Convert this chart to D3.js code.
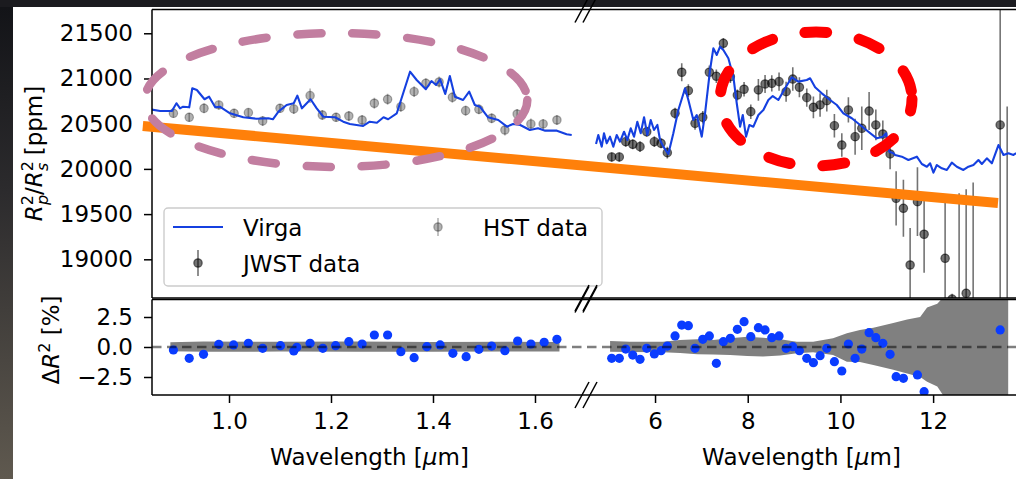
<!DOCTYPE html>
<html><head><meta charset="utf-8">
<script src="https://cdn.jsdelivr.net/npm/d3@7"></script>
<style>
body{margin:0;background:#fff}
svg{display:block}
text{font-family:"DejaVu Sans",sans-serif;fill:#000}
</style>
</head><body>
<svg id="c" width="1016" height="479"></svg>
<script>
// ---------------- DATA ----------------
const hstLam = [0.891,0.922,0.951,0.980,1.010,1.038,1.066,1.100,1.127,1.159,1.183,1.210,1.235,1.261,1.285,1.311,1.337,1.363,1.386,1.412,1.438,1.464,1.490,1.515,1.541,1.565,1.592,1.616,1.643];
const hstVal = [20615,20571,20670,20707,20615,20622,20530,20670,20663,20810,20596,20571,20585,20541,20726,20770,20688,20854,20947,20961,20792,20644,20659,20560,20430,20607,20497,20497,20541];
const hstErr = [50,50,55,50,50,50,55,50,55,80,55,50,55,55,60,60,55,60,55,60,60,55,55,55,60,55,60,55,55];

const jwstLam = [5.065,5.229,5.368,5.519,5.676,5.821,5.985,6.130,6.265,6.432,6.576,6.719,6.863,7.030,7.172,7.323,7.474,7.625,7.776,7.921,8.066,8.230,8.374,8.519,8.676,8.828,8.972,9.115,9.274,9.417,9.561,9.706,9.870,10.030,10.172,10.317,10.461,10.619,10.764,10.915,11.072,11.202,11.359,11.504,11.662,11.806,12.259,12.41,12.561,12.713,12.864,13.447,13.598];
const jwstVal = [20132,20132,20301,20272,20246,20411,20301,20283,20179,20615,21069,20865,20504,20571,21069,21024,21389,21020,20817,20881,20633,20873,20939,20947,20965,20854,20994,20903,20788,20681,20707,20754,20478,20264,20652,20356,20449,20640,20486,20386,20165,19675,19564,18937,19637,19277,19011,18560,18300,18624,18200,20486,17900];
const jwstErr = [50,50,55,55,60,55,60,55,65,60,100,70,70,70,75,75,60,70,60,80,80,120,100,90,100,110,130,110,100,120,130,120,130,130,140,200,240,210,170,150,170,300,315,410,380,425,620,60,1430,1150,1650,2200,2790];

const virgaLamL = [0.845,0.865,0.888,0.897,0.904,0.910,0.922,0.928,0.937,0.952,0.961,0.973,0.982,1.002,1.028,1.054,1.077,1.086,1.097,1.113,1.127,1.134,1.143,1.160,1.172,1.185,1.208,1.224,1.237,1.263,1.276,1.290,1.303,1.312,1.329,1.355,1.368,1.386,1.397,1.406,1.414,1.424,1.433,1.443,1.459,1.471,1.482,1.492,1.508,1.528,1.545,1.557,1.571,1.590,1.606,1.620,1.643,1.662,1.672];
const virgaValL = [20659,20640,20640,20726,20670,20688,20681,20892,20873,20770,20799,20681,20688,20615,20571,20555,20560,20549,20633,20707,20726,20810,20670,20770,20670,20577,20571,20522,20497,20475,20522,20511,20571,20549,20615,21075,20983,20881,20972,20928,20991,20829,21028,20799,20762,20854,20707,20688,20571,20541,20467,20497,20486,20430,20449,20423,20423,20383,20375];

const virgaLamR = [4.727,4.776,4.850,4.899,4.957,5.029,5.100,5.173,5.245,5.331,5.402,5.476,5.547,5.618,5.691,5.763,5.834,5.907,5.978,6.050,6.108,6.179,6.287,6.395,6.503,6.648,6.719,6.827,6.900,7.008,7.079,7.187,7.258,7.332,7.403,7.474,7.582,7.690,7.763,7.835,7.893,7.964,8.035,8.122,8.230,8.338,8.445,8.540,8.661,8.806,8.951,9.093,9.274,9.346,9.454,9.598,9.777,9.922,10.064,10.246,10.425,10.604,10.785,10.915,10.986,11.057,11.144,11.180,11.325,11.467,11.649,11.757,11.865,11.936,12.007,12.080,12.188,12.296,12.404,12.512,12.654,12.762,12.870,12.978,13.052,13.159,13.267,13.410,13.518,13.626,13.734,13.792];
const virgaValR = [20275,20375,20246,20394,20283,20356,20246,20375,20301,20411,20320,20449,20356,20522,20394,20571,20375,20541,20430,20486,20320,20246,20165,20394,20652,20892,20762,20541,20596,20356,20615,21094,21334,21260,21352,21315,21223,21020,20726,20467,20596,20356,20486,20467,20596,20652,20762,20806,20762,20892,21013,20965,20983,21002,20903,20836,20762,20707,20615,20560,20486,20411,20338,20356,20394,20190,20173,20154,20135,20098,20135,20054,20024,20062,19958,20043,20007,19988,20069,20024,19988,20024,20043,20098,20054,20117,20062,20264,20154,20173,20154,20173];

const resLamL = [0.891,0.922,0.950,0.980,1.009,1.038,1.066,1.101,1.127,1.133,1.159,1.184,1.209,1.235,1.261,1.285,1.311,1.337,1.363,1.388,1.414,1.439,1.465,1.490,1.515,1.541,1.566,1.592,1.618,1.643];
const resValL = [-0.25,-0.94,-0.61,0.22,0.17,0.31,-0.11,0.11,-0.33,-0.03,0.31,-0.11,0.11,0.44,0.25,1.0,1.0,-0.39,-0.89,0.03,0.17,-0.53,-0.81,-0.19,0.08,-0.31,0.5,0.25,0.39,0.64];
const resLamR = jwstLam;
const resValR = [-0.94,-0.94,-0.17,-0.67,-1.03,-0.11,-0.58,-0.31,0.08,0.92,1.83,1.78,-0.11,0.64,0.92,-1.36,0.44,0.72,1.47,2.11,0.86,1.61,1.42,0.78,0.92,-0.11,0.03,-0.31,-0.94,-1.31,-0.72,-0.11,-1.22,-2.0,0.25,-0.94,-0.17,1.19,0.78,0.31,-0.61,-2.47,-2.61,-5.5,-2.33,-3.72,-5.0,-6.0,-8.0,-6.0,-8.0,1.42,-10.0];

const bandLamL = [0.885,0.95,1.1,1.25,1.4,1.55,1.648];
const bandHiL  = [0.40,0.45,0.43,0.45,0.42,0.43,0.42];
const bandLoL  = [-0.36,-0.40,-0.38,-0.40,-0.40,-0.38,-0.38];
const bandLamR = [5.03,5.46,6.17,6.54,6.91,7.25,7.62,7.99,8.33,8.70,9.06,9.41,9.84,10.14,10.42,10.71,11.14,11.44,11.72,11.87,12.09,12.30,13.62];
const bandHiR  = [0.50,0.44,0.44,0.58,0.64,0.58,0.72,0.86,0.78,0.64,0.44,0.44,0.72,1.14,1.42,1.60,2.00,2.30,2.50,3.30,3.60,4.50,4.50];
const bandLoR  = [-0.39,-0.42,-0.44,-0.50,-0.61,-0.63,-0.67,-0.75,-0.80,-0.70,-0.53,-0.44,-0.67,-1.22,-1.25,-1.50,-1.90,-2.20,-2.50,-2.90,-3.30,-4.50,-4.50];

const yTicksTop = [19000,19500,20000,20500,21000,21500];
const yTicksBot = [-2.5,0,2.5];
const xTicksL = [1.0,1.2,1.4,1.6];
const xTicksR = [6,8,10,12];

// slide annotations (data units of the panels)
const pinkEllipse = {lam:1.21, val:20762, rLam:0.375, rVal:740};
const redEllipse  = {lam:9.475, val:20773, rLam:2.07, rVal:741};
const orangeLine  = {lam0:0.831, val0:20475, lam1:13.40, val1:19623};

// ---------------- LAYOUT ----------------
const svg = d3.select("#c");
const defs = svg.append("defs");
const PL = {x0:152, x1:587}, PR = {x0:587, x1:1017};
const PT = {y0:9.5, y1:298}, PB = {y0:299.5, y1:395};

const xL = d3.scaleLinear().domain([0.849,1.702]).range([PL.x0,PL.x1]);
const xR = d3.scaleLinear().domain([4.532,13.81]).range([PR.x0,PR.x1]);
const yT = d3.scaleLinear().domain([18572,21763]).range([PT.y1,PT.y0]);
const yB = d3.scaleLinear().domain([-4,4]).range([395,299]);

// background (photo edges)
const lg = defs.append("linearGradient").attr("id","lg").attr("x1",0).attr("y1",0).attr("x2",0).attr("y2",1);
lg.append("stop").attr("offset","0%").attr("stop-color","#121317");
lg.append("stop").attr("offset","40%").attr("stop-color","#2c2b2d");
lg.append("stop").attr("offset","100%").attr("stop-color","#5f594f");
svg.append("rect").attr("width",1016).attr("height",479).attr("fill","#fff");
svg.append("rect").attr("x",0).attr("y",0).attr("width",13).attr("height",479).attr("fill","url(#lg)");
svg.append("rect").attr("x",0).attr("y",0).attr("width",1016).attr("height",7).attr("fill","#1b1b1f");

function clip(id,x0,x1,y0,y1){
  defs.append("clipPath").attr("id",id).append("rect")
    .attr("x",x0).attr("y",y0).attr("width",x1-x0).attr("height",y1-y0);
}
clip("cTL",PL.x0,PL.x1,PT.y0,PT.y1);
clip("cTR",PR.x0,PR.x1,PT.y0,PT.y1);
clip("cBL",PL.x0,PL.x1,PB.y0,PB.y1);
clip("cBR",PR.x0,PR.x1,PB.y0,PB.y1);

const gTL = svg.append("g").attr("clip-path","url(#cTL)");
const gTR = svg.append("g").attr("clip-path","url(#cTR)");
const gBL = svg.append("g").attr("clip-path","url(#cBL)");
const gBR = svg.append("g").attr("clip-path","url(#cBR)");

// ---------- residual panels ----------
function band(g, lam, hi, lo, x){
  g.append("path").datum(d3.range(lam.length))
    .attr("fill","#808080")
    .attr("d", d3.area().x(i=>x(lam[i])).y0(i=>yB(lo[i])).y1(i=>yB(hi[i])));
}
band(gBL, bandLamL, bandHiL, bandLoL, xL);
band(gBR, bandLamR, bandHiR, bandLoR, xR);

svg.append("line").attr("x1",PL.x0).attr("x2",PR.x1).attr("y1",yB(0)).attr("y2",yB(0))
  .attr("stroke","#000").attr("stroke-opacity",0.5).attr("stroke-width",2.3)
  .attr("stroke-dasharray","9.5,5.5");

function dots(g, lam, val, x){
  g.selectAll(null).data(d3.range(lam.length)).join("circle")
    .attr("cx",i=>x(lam[i])).attr("cy",i=>yB(val[i])).attr("r",4.6)
    .attr("fill","#0a3cff");
}
dots(gBL, resLamL, resValL, xL);
dots(gBR, resLamR, resValR, xR);

// ---------- spectra ----------
function errPoints(g, lam, val, err, x, alpha){
  const idx = d3.range(lam.length);
  g.selectAll(null).data(idx).join("line")
    .attr("x1",i=>x(lam[i])).attr("x2",i=>x(lam[i]))
    .attr("y1",i=>yT(val[i]-err[i])).attr("y2",i=>yT(val[i]+err[i]))
    .attr("stroke","#000").attr("stroke-opacity",alpha).attr("stroke-width",1.6);
  g.selectAll(null).data(idx).join("circle")
    .attr("cx",i=>x(lam[i])).attr("cy",i=>yT(val[i])).attr("r",4.2)
    .attr("fill","#000").attr("fill-opacity",alpha)
    .attr("stroke","#000").attr("stroke-opacity",alpha).attr("stroke-width",1.2);
}
errPoints(gTL, hstLam, hstVal, hstErr, xL, 0.3);
errPoints(gTR, jwstLam, jwstVal, jwstErr, xR, 0.55);

function virga(g, lam, val, x){
  g.append("path").datum(d3.range(lam.length))
    .attr("fill","none").attr("stroke","#1540e0").attr("stroke-width",2.1)
    .attr("stroke-linejoin","round")
    .attr("d", d3.line().x(i=>x(lam[i])).y(i=>yT(val[i])));
}
virga(gTL, virgaLamL, virgaValL, xL);
virga(gTR, virgaLamR, virgaValR, xR);

// ---------- legend ----------
const leg = svg.append("g");
leg.append("rect").attr("x",164).attr("y",208).attr("width",438).attr("height",78).attr("rx",4)
  .attr("fill","#fff").attr("fill-opacity",0.8).attr("stroke","#cccccc").attr("stroke-width",1.4);
leg.append("line").attr("x1",173).attr("x2",223).attr("y1",227).attr("y2",227)
  .attr("stroke","#1540e0").attr("stroke-width",2.1);
leg.append("text").attr("x",243).attr("y",235.5).attr("font-size",23).text("Virga");
function legMarker(cx,cy,h,alpha){
  leg.append("line").attr("x1",cx).attr("x2",cx).attr("y1",cy-h).attr("y2",cy+h)
    .attr("stroke","#000").attr("stroke-opacity",alpha).attr("stroke-width",1.6);
  leg.append("circle").attr("cx",cx).attr("cy",cy).attr("r",4.2)
    .attr("fill","#000").attr("fill-opacity",alpha)
    .attr("stroke","#000").attr("stroke-opacity",alpha).attr("stroke-width",1.2);
}
legMarker(438,227,9,0.3);
leg.append("text").attr("x",483).attr("y",235.5).attr("font-size",23).text("HST data");
legMarker(198,263,13,0.55);
leg.append("text").attr("x",243).attr("y",271.5).attr("font-size",23).text("JWST data");

// ---------- spines ----------
const sp = svg.append("g").attr("stroke","#000").attr("stroke-width",1.5);
sp.append("line").attr("x1",PL.x0).attr("x2",PR.x1).attr("y1",PT.y0).attr("y2",PT.y0);
sp.append("line").attr("x1",PL.x0).attr("x2",PR.x1).attr("y1",PT.y1).attr("y2",PT.y1);
sp.append("line").attr("x1",PL.x0).attr("x2",PR.x1).attr("y1",PB.y0).attr("y2",PB.y0);
sp.append("line").attr("x1",PL.x0).attr("x2",PR.x1).attr("y1",PB.y1).attr("y2",PB.y1);
sp.append("line").attr("x1",PL.x0).attr("x2",PL.x0).attr("y1",PT.y0).attr("y2",PT.y1);
sp.append("line").attr("x1",PL.x0).attr("x2",PL.x0).attr("y1",PB.y0).attr("y2",PB.y1);

// ---------- axes ----------
function styleAxis(g){
  g.select(".domain").remove();
  g.selectAll(".tick line").attr("stroke","#000").attr("stroke-width",1.5);
  g.selectAll(".tick text").attr("font-size",23).attr("font-family","DejaVu Sans").attr("fill","#000");
}
svg.append("g").attr("transform",`translate(${PL.x0},0)`)
  .call(d3.axisLeft(yT).tickValues(yTicksTop).tickFormat(d3.format("d")).tickSize(8).tickPadding(11))
  .call(styleAxis);
svg.append("g").attr("transform",`translate(${PL.x0},0)`)
  .call(d3.axisLeft(yB).tickValues(yTicksBot).tickFormat(d3.format(".1f")).tickSize(8).tickPadding(11))
  .call(styleAxis);
svg.append("g").attr("transform",`translate(0,${PB.y1})`)
  .call(d3.axisBottom(xL).tickValues(xTicksL).tickFormat(d3.format(".1f")).tickSize(8).tickPadding(10))
  .call(styleAxis);
svg.append("g").attr("transform",`translate(0,${PB.y1})`)
  .call(d3.axisBottom(xR).tickValues(xTicksR).tickFormat(d3.format("d")).tickSize(8).tickPadding(10))
  .call(styleAxis);

// axis labels
function xlabel(cx){
  const t = svg.append("text").attr("x",cx).attr("y",465).attr("font-size",23).attr("text-anchor","middle");
  t.append("tspan").text("Wavelength [");
  t.append("tspan").attr("font-style","italic").text("\u03bc");
  t.append("tspan").text("m]");
}
xlabel((PL.x0+PL.x1)/2);
xlabel((PR.x0+1016)/2);

const yl = svg.append("text").attr("transform","translate(42,153.5) rotate(-90)")
  .attr("font-size",23).attr("text-anchor","middle");
yl.append("tspan").attr("font-style","italic").text("R");
yl.append("tspan").attr("font-size",16).attr("dy",-9).text("2");
yl.append("tspan").attr("font-size",16).attr("font-style","italic").attr("dx",-10).attr("dy",15).text("p");
yl.append("tspan").attr("dy",-6).text("/");
yl.append("tspan").attr("font-style","italic").text("R");
yl.append("tspan").attr("font-size",16).attr("dy",-9).text("2");
yl.append("tspan").attr("font-size",16).attr("font-style","italic").attr("dx",-10).attr("dy",15).text("s");
yl.append("tspan").attr("dy",-6).text("\u00a0[ppm]");

const yl2 = svg.append("text").attr("transform","translate(59,340) rotate(-90)")
  .attr("font-size",23).attr("text-anchor","middle");
yl2.append("tspan").text("\u0394");
yl2.append("tspan").attr("font-style","italic").text("R");
yl2.append("tspan").attr("font-size",16).attr("dy",-9).text("2");
yl2.append("tspan").attr("dy",9).text("\u00a0[%]");

// ---------- slide annotations ----------
svg.append("line")
  .attr("x1",xL(orangeLine.lam0)).attr("y1",yT(orangeLine.val0))
  .attr("x2",xR(orangeLine.lam1)).attr("y2",yT(orangeLine.val1))
  .attr("stroke","#ff800a").attr("stroke-width",10);

function ell(e, x, color, w, dash, off){
  svg.append("ellipse")
    .attr("cx",x(e.lam)).attr("cy",yT(e.val))
    .attr("rx",Math.abs(x(e.lam+e.rLam)-x(e.lam)))
    .attr("ry",Math.abs(yT(e.val+e.rVal)-yT(e.val)))
    .attr("fill","none").attr("stroke",color).attr("stroke-width",w)
    .attr("stroke-dasharray",dash).attr("stroke-dashoffset",off).attr("stroke-linecap","round");
}
ell(pinkEllipse, xL, "#c27ea0", 8.5, "24,31", 0);
ell(redEllipse, xR, "#ff0000", 11, "22,33", 10);

// ---------- break marks ----------
function brk(y){
  [0,8].forEach(o=>{
    svg.append("line").attr("x1",575+o).attr("y1",y+13).attr("x2",589+o).attr("y2",y-13)
      .attr("stroke","#000").attr("stroke-width",1.5);
  });
}
brk(PT.y0); brk(PT.y1); brk(PB.y0); brk(PB.y1);
</script>
</body></html>
